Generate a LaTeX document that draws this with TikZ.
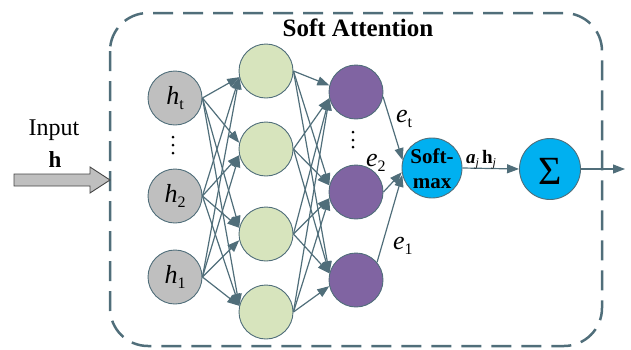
\documentclass[tikz,border=0pt]{standalone}
\usepackage{fontspec}
\setmainfont{Liberation Serif}
\usetikzlibrary{arrows.meta}

\definecolor{linec}{RGB}{80,110,122}
\definecolor{grayc}{RGB}{191,191,191}
\definecolor{greenc}{RGB}{215,228,189}
\definecolor{purplec}{RGB}{128,100,162}
\definecolor{cyanc}{RGB}{0,176,240}
\definecolor{arrowedge}{RGB}{70,70,70}

% italic symbol with an upright, lowered index
\newcommand\sublbl[2]{{\fontsize{26}{28}\selectfont\itshape #1}\raisebox{-5pt}{\fontsize{16}{16}\selectfont #2}}

\tikzset{
  conn/.style={draw=linec, line width=1.2pt, -{Triangle[length=12pt,width=9pt]}},
  unit/.style={circle, draw=linec, line width=0.9pt, minimum size=54pt, inner sep=0pt},
  inunit/.style={unit, fill=grayc},
  hidunit/.style={unit, fill=greenc},
  scoreunit/.style={unit, fill=purplec},
  opunit/.style={unit, fill=cyanc, minimum size=60pt},
  boxline/.style={draw=linec, line width=2.5pt, dash pattern=on 20pt off 10pt, rounded corners=38pt},
  lbl/.style={inner sep=0pt, anchor=base west},
}

\begin{document}
\begin{tikzpicture}[x=1pt, y=-1pt]
\useasboundingbox (0,0) rectangle (631,349);

% enclosing dashed frame and its title
\draw[boxline] (110,13) rectangle (602,346);
\node[anchor=base, inner sep=0pt, font=\fontsize{25}{28}\selectfont\bfseries] (title) at (358,36.5) {Soft Attention};

% input block arrow and its caption
\filldraw[fill=grayc, draw=arrowedge, line width=0.9pt]
  (14,174) -- (90,174) -- (90,167) -- (110,180) -- (90,193) -- (90,186) -- (14,186) -- cycle;
\node[anchor=base, inner sep=0pt, font=\fontsize{24}{26}\selectfont] (inlbl) at (54,135) {Input};
\node[anchor=base, inner sep=0pt, font=\fontsize{23}{26}\selectfont\bfseries] (invec) at (55,167) {h};

% input states
\node[inunit] (ht) at (175,98)  {\sublbl{h}{t}};
\node[inunit] (h2) at (175,196) {\sublbl{h}{2}};
\node[inunit] (h1) at (175,277) {\sublbl{h}{1}};

% hidden layer
\node[hidunit] (g1) at (266,71)  {};
\node[hidunit] (g2) at (266,149) {};
\node[hidunit] (g3) at (266,234) {};
\node[hidunit] (g4) at (266,312) {};

% score layer
\node[scoreunit] (p1) at (356,92)  {};
\node[scoreunit] (p2) at (356,192) {};
\node[scoreunit] (p3) at (356,280) {};

% softmax and weighted sum
\node[opunit] (sm) at (432,168) {};
\node[inner sep=0pt, align=center, font=\fontsize{21}{25}\selectfont\bfseries] (smtext) at (432,168.5) {Soft-\\max};
\node[opunit, minimum size=61pt] (sig) at (550,169) {};
\node[inner sep=0pt, font=\fontsize{40}{42}\selectfont] (sigtext) at (550,171) {Σ};
\coordinate (out) at (625,169);

% vertical ellipses
\foreach \yy in {137,145,153} \fill (173,\yy) circle (1.5);
\foreach \yy in {132,140,147} \fill (353,\yy) circle (1.5);

% fully connected layers
\foreach \s/\sy in {ht/98,h2/196,h1/277}
  \foreach \t/\ty in {g1/71,g2/149,g3/234,g4/312} {
    \pgfmathtruncatemacro{\ang}{ifthenelse(\sy<\ty,167,193)}
    \draw[conn] (\s.east) -- (\t.\ang);
  }
\foreach \s/\sy in {g1/71,g2/149,g3/234,g4/312}
  \foreach \t/\ty in {p1/92,p2/192,p3/280} {
    \pgfmathtruncatemacro{\ang}{ifthenelse(\sy<\ty,166,193)}
    \draw[conn] (\s.east) -- (\t.\ang);
  }

% scores into softmax
\draw[conn] (p1.-10) -- (sm.165);
\draw[conn] (p2.east) -- (sm.188);
\draw[conn] (p3.40) -- (sm.193);
\draw[conn] (sm.east) -- (sig.west);
\draw[conn] (sig.east) -- (out);

% score labels
\node[lbl] (et) at (396,122) {\sublbl{e}{t}};
\node[lbl] (e2) at (366,166) {\sublbl{e}{2}};
\node[lbl] (e1) at (393,249) {\sublbl{e}{1}};
\node[lbl, font=\fontsize{19}{20}\selectfont] (ahj) at (466,163)
  {{\bfseries\itshape a}\raisebox{-3pt}{\fontsize{12}{12}\selectfont\itshape j}\hspace{3pt}{\bfseries h}\raisebox{-3pt}{\fontsize{12}{12}\selectfont\itshape j}};
\end{tikzpicture}
\end{document}
